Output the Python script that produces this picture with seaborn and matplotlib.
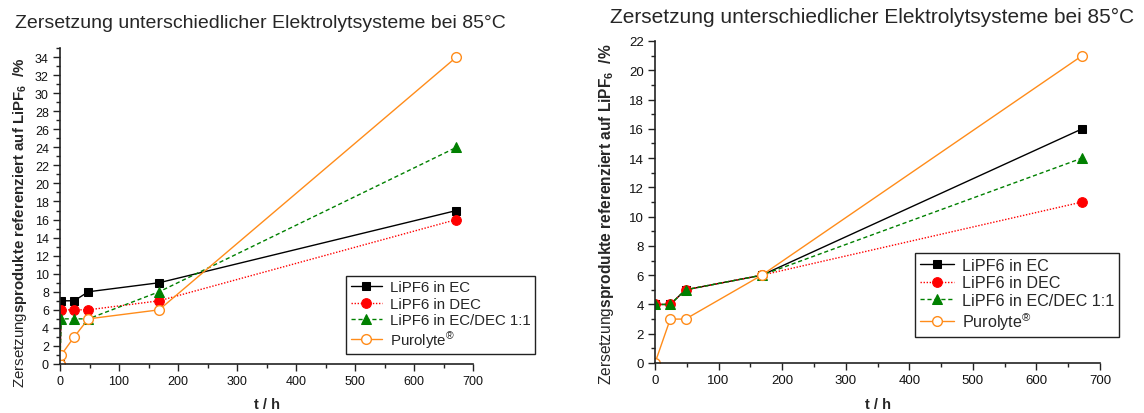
import matplotlib
matplotlib.use("Agg")
import matplotlib.pyplot as plt
from matplotlib.ticker import MultipleLocator
import pandas as pd
import seaborn as sns

# Zersetzungsgrad (%) der Elektrolyte bei 85 °C über der Lagerzeit
t_links = [0, 2, 24, 48, 168, 672]
ec_links = [0, 7, 7, 8, 9, 17]
dec_links = [0, 6, 6, 6, 7, 16]
ecdec_links = [0, 5, 5, 5, 8, 24]
purolyte_links = [0, 1, 3, 5, 6, 34]

t_rechts = [0, 24, 48, 168, 672]
ec_rechts = [4, 4, 5, 6, 16]
dec_rechts = [4, 4, 5, 6, 11]
ecdec_rechts = [4, 4, 5, 6, 14]
purolyte_rechts = [0, 3, 3, 6, 21]

serien = ["LiPF6 in EC", "LiPF6 in DEC", "LiPF6 in EC/DEC 1:1", r"Purolyte$^{\circledR}$"]
titel = "Zersetzung unterschiedlicher Elektrolytsysteme bei 85°C"
ylabel = r"Zersetzung$\mathbf{sprodukte\ referenziert\ auf\ LiPF_6\ \ /\%}$"
xlabel = "t / h"

sns.set_theme(style="ticks")
plt.rcParams["font.family"] = ["Liberation Sans", "DejaVu Sans"]
plt.rcParams["mathtext.fontset"] = "custom"
plt.rcParams["mathtext.rm"] = "Liberation Sans"
plt.rcParams["mathtext.it"] = "Liberation Sans:italic"
plt.rcParams["mathtext.bf"] = "Liberation Sans:bold"

stile = [
    dict(color="black", marker="s", linestyle="-", markersize=6,
         markerfacecolor="black", markeredgecolor="black"),
    dict(color="#ff0000", marker="o", linestyle=(0, (1, 1.2)), markersize=7,
         markerfacecolor="#ff0000", markeredgecolor="#ff0000"),
    dict(color="#008000", marker="^", linestyle=(0, (3, 2)), markersize=7.5,
         markerfacecolor="#008000", markeredgecolor="#008000"),
    dict(color="#ff8c1a", marker="o", linestyle="-", markersize=7,
         markerfacecolor="white", markeredgecolor="#ff8c1a", markeredgewidth=1.0),
]


def zeichne(ax, t, reihen, ymax, tick_fs):
    df = pd.DataFrame({"t": t})
    for name, werte, st in zip(serien, reihen, stile):
        df[name] = werte
        sns.lineplot(data=df, x="t", y=name, ax=ax, linewidth=1.0,
                     label=name, legend=False, **st)
    ax.set_xlim(0, 700)
    ax.set_ylim(0, ymax)
    ax.xaxis.set_major_locator(MultipleLocator(100))
    ax.xaxis.set_minor_locator(MultipleLocator(50))
    ax.yaxis.set_major_locator(MultipleLocator(2))
    ax.yaxis.set_minor_locator(MultipleLocator(1))
    ax.tick_params(which="major", length=5, width=1.0, labelsize=tick_fs,
                   color="#222222", labelcolor="#111111", pad=3)
    ax.tick_params(which="minor", length=3, width=1.0, color="#222222")
    for s in ("top", "right"):
        ax.spines[s].set_visible(False)
    for s in ("left", "bottom"):
        ax.spines[s].set_linewidth(1.2)
        ax.spines[s].set_color("#222222")


fig = plt.figure(figsize=(11.44, 4.14), dpi=100)
ax1 = fig.add_axes([60 / 1144, 1 - 365 / 414, 413 / 1144, 316 / 414])
ax2 = fig.add_axes([655 / 1144, 1 - 364 / 414, 445 / 1144, 322 / 414])

zeichne(ax1, t_links, [ec_links, dec_links, ecdec_links, purolyte_links], 35, 9)
zeichne(ax2, t_rechts, [ec_rechts, dec_rechts, ecdec_rechts, purolyte_rechts], 22, 9.5)

fig.text(15 / 1144, 1 - 23 / 414, titel, fontsize=14, ha="left", va="center")
fig.text(610 / 1144, 1 - 17 / 414, titel, fontsize=15, ha="left", va="center")

for ax, yl_x, yl_y, fs in ((ax1, -0.097, 0.45, 10.8), (ax2, -0.108, 0.466, 11.2)):
    ax.set_ylabel(ylabel, fontsize=fs)
    ax.yaxis.label.set_va("center")
    ax.yaxis.set_label_coords(yl_x, yl_y)
    ax.set_xlabel(xlabel, fontsize=10.5, fontweight="bold")
    ax.xaxis.label.set_va("center")

ax1.xaxis.set_label_coords(0.5, -40 / 316)
ax2.xaxis.set_label_coords(0.5, -41 / 322)

for ax, x0, y0, fs in ((ax1, 346, 277, 10.8), (ax2, 915, 254, 11.6)):
    h, l = ax.get_legend_handles_labels()
    leg = ax.legend(h, l, loc="upper left",
                    bbox_to_anchor=(x0 / 1144, 1 - y0 / 414),
                    bbox_transform=fig.transFigure, borderaxespad=0,
                    fontsize=fs, frameon=True, fancybox=False, framealpha=1,
                    edgecolor="#222222", handlelength=2.1, handletextpad=0.5,
                    borderpad=0.3, labelspacing=0.15, numpoints=1)
    leg.get_frame().set_linewidth(1.0)

fig.savefig("out.png", dpi=100)
